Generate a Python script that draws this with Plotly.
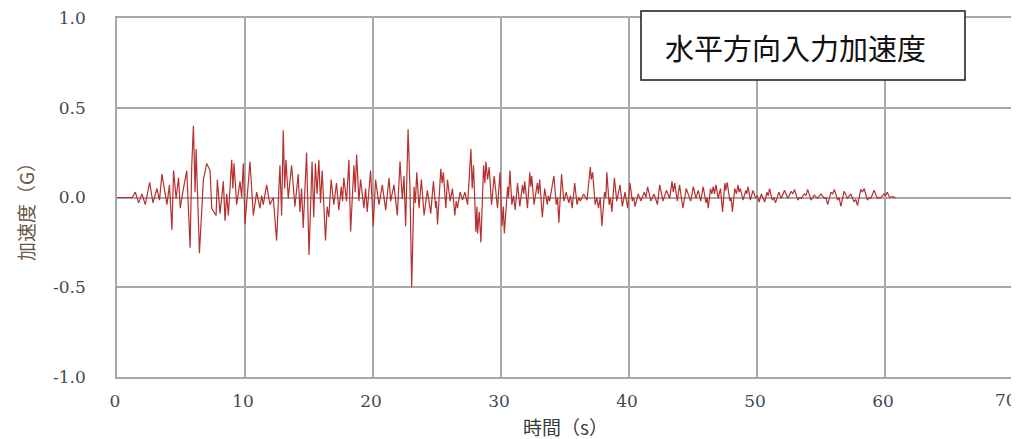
import plotly.graph_objects as go

# ---- data (time in s, acceleration in G) ----
time_s = [
    0.0, 1.2, 1.43, 1.69, 1.95, 2.21, 2.55, 2.81, 3.12, 3.32, 3.51, 3.90, 4.10, 4.29, 4.42, 4.62,
    4.81, 4.94, 5.19, 5.45, 5.71, 5.84, 5.97, 6.10, 6.18, 6.44, 6.75, 7.01, 7.27, 7.40, 7.74, 7.84,
    8.05, 8.31, 8.44, 8.57, 8.70, 8.96, 9.05, 9.14, 9.35, 9.61, 9.74, 9.87, 10.0, 10.39, 10.65, 10.91,
    11.17, 11.30, 11.43, 11.69, 11.95, 12.21, 12.47, 12.73, 12.86, 12.99, 13.10, 13.20, 13.38, 13.64,
    13.90, 14.16, 14.29, 14.42, 14.55, 14.81, 15.00, 15.24, 15.37, 15.50, 15.63, 15.77, 15.90, 16.03,
    16.29, 16.42, 16.55, 16.73, 16.94, 17.15, 17.33, 17.52, 17.62, 17.72, 17.93, 18.12, 18.25, 18.51,
    18.61, 18.72, 18.90, 19.03, 19.29, 19.42, 19.55, 19.81, 20.02, 20.20, 20.47, 20.73, 20.99, 21.25,
    21.38, 21.64, 21.90, 22.11, 22.29, 22.42, 22.55, 22.74, 22.89, 23.02, 23.21, 23.31, 23.42, 23.60,
    23.78, 23.99, 24.25, 24.51, 24.72, 24.90, 24.96, 25.04, 25.30, 25.40, 25.50, 25.69, 25.82, 26.03,
    26.21, 26.39, 26.50, 26.60, 26.81, 26.99, 27.18, 27.39, 27.65, 27.75, 27.85, 28.04, 28.12, 28.17,
    28.30, 28.43, 28.64, 28.74, 28.82, 28.95, 29.08, 29.26, 29.47, 29.73, 29.92, 30.08, 30.18, 30.26,
    30.52, 30.59, 30.70, 30.85, 30.98, 31.11, 31.29, 31.47, 31.68, 31.78, 31.86, 32.07, 32.25, 32.33,
    32.40, 32.58, 32.84, 32.92, 33.02, 33.23, 33.41, 33.62, 33.70, 33.80, 34.13, 34.32, 34.42, 34.52,
    34.73, 34.91, 35.09, 35.30, 35.43, 35.56, 35.76, 35.94, 36.07, 36.20, 36.46, 36.72, 36.98, 37.05,
    37.16, 37.36, 37.49, 37.62, 37.75, 37.88, 38.09, 38.19, 38.27, 38.45, 38.55, 38.66, 38.86, 39.04,
    39.30, 39.48, 39.69, 39.90, 40.08, 40.26, 40.36, 40.47, 40.72, 40.93, 41.19, 41.32, 41.45, 41.71,
    41.96, 42.22, 42.40, 42.66, 42.92, 43.18, 43.36, 43.46, 43.57, 43.77, 43.95, 44.21, 44.47, 44.82,
    45.03, 45.23, 45.41, 45.60, 45.80, 46.01, 46.11, 46.19, 46.37, 46.47, 46.58, 46.68, 46.79, 46.97,
    47.15, 47.31, 47.49, 47.56, 47.67, 47.88, 47.98, 48.08, 48.26, 48.39, 48.52, 48.60, 48.70, 48.91,
    49.12, 49.20, 49.30, 49.48, 49.69, 49.90, 50.03, 50.16, 50.34, 50.60, 50.78, 50.88, 50.98, 51.19,
    51.32, 51.45, 51.71, 51.89, 52.15, 52.41, 52.67, 52.80, 52.93, 53.19, 53.32, 53.45, 53.70, 53.83,
    53.96, 54.22, 54.48, 54.74, 55.00, 55.26, 55.39, 55.52, 55.78, 55.91, 56.04, 56.30, 56.42, 56.55,
    56.81, 57.07, 57.33, 57.59, 57.72, 57.85, 58.11, 58.24, 58.37, 58.63, 58.76, 58.89, 59.15, 59.40,
    59.53, 59.66, 59.92, 60.05, 60.18, 60.36, 60.57, 60.83,
]
accel_g = [
    0.0, 0.0, 0.03, -0.03, 0.02, -0.04, 0.085, -0.03, 0.05, -0.015, 0.13, -0.04, 0.07, -0.18, 0.15, -0.005,
    0.11, -0.06, 0.05, 0.15, -0.28, 0.18, 0.40, 0.03, 0.27, -0.31, 0.10, 0.19, 0.15, -0.06, -0.10, 0.10,
    -0.09, 0.09, -0.13, 0.02, -0.10, 0.21, 0.05, 0.19, -0.04, 0.09, 0.0, 0.19, -0.15, 0.20, -0.10, 0.03,
    -0.06, 0.01, -0.04, 0.07, -0.04, 0.0, -0.24, 0.18, -0.10, 0.375, 0.05, 0.21, -0.005, 0.18,
    -0.05, 0.13, -0.08, 0.05, -0.17, 0.25, -0.32, 0.20, -0.11, 0.19, 0.02, 0.21, -0.03, 0.15,
    -0.24, -0.05, -0.11, 0.10, -0.04, 0.08, -0.07, 0.06, -0.02, 0.11, -0.02, 0.21, -0.19, 0.18,
    0.03, 0.24, -0.02, 0.10, -0.06, 0.05, -0.08, 0.15, -0.16, 0.10, -0.04, 0.07, -0.07, 0.11,
    -0.02, 0.07, -0.10, 0.20, -0.01, 0.12, -0.16, 0.38, 0.05, -0.50, 0.06, -0.03, 0.14, -0.06,
    0.10, -0.10, 0.04, -0.09, 0.09, -0.06, -0.02, -0.15, 0.16, 0.08, 0.14, -0.06, 0.10, -0.02,
    0.05, -0.10, -0.02, -0.06, 0.03, -0.015, 0.03, -0.04, 0.27, 0.05, 0.18, -0.19, -0.05, -0.20,
    -0.08, -0.25, 0.18, 0.08, 0.20, 0.10, 0.17, -0.04, 0.12, -0.06, 0.14, -0.16, -0.05, -0.20,
    0.06, 0.0, 0.15, -0.04, 0.01, -0.07, 0.08, -0.05, 0.07, 0.02, 0.09, -0.06, 0.14, 0.06,
    0.12, -0.04, 0.08, 0.02, 0.10, -0.11, 0.05, -0.04, 0.01, -0.02, 0.12, -0.04, 0.0, -0.14,
    0.13, -0.02, 0.03, -0.03, 0.01, -0.06, 0.08, -0.04, 0.0, -0.02, 0.02, -0.015, 0.17, 0.10,
    0.14, -0.04, 0.0, -0.06, 0.0, -0.16, 0.03, 0.0, 0.14, -0.04, 0.0, -0.08, 0.11, -0.02,
    0.07, -0.05, 0.03, -0.06, 0.08, -0.02, 0.0, -0.05, 0.02, -0.02, 0.03, 0.0, 0.06, -0.02,
    0.02, -0.04, 0.07, -0.02, 0.04, -0.005, 0.09, 0.03, 0.08, -0.02, 0.07, -0.06, 0.05, -0.02,
    0.06, -0.005, 0.04, -0.02, 0.06, -0.03, 0.0, -0.06, 0.05, 0.02, 0.06, 0.02, 0.07, -0.005,
    0.05, -0.08, 0.08, 0.04, 0.085, -0.02, 0.0, -0.08, 0.05, 0.02, 0.07, 0.03, 0.05, -0.015,
    0.04, 0.02, 0.06, -0.015, 0.04, -0.005, 0.01, -0.025, 0.02, -0.025, 0.03, 0.01, 0.05, -0.015,
    0.0, -0.03, 0.03, -0.005, 0.04, -0.005, 0.035, 0.02, 0.045, -0.015, 0.0, -0.005, 0.02, 0.01,
    0.045, -0.015, 0.013, -0.005, 0.02, -0.005, 0.0, -0.04, 0.03, 0.02, 0.045, -0.015, 0.0, -0.05,
    0.035, -0.005, 0.02, -0.025, -0.01, -0.045, 0.045, 0.03, 0.05, -0.015, 0.0, -0.005, 0.04, -0.005,
    0.0, -0.002, 0.02, 0.01, 0.03, 0.0, 0.005, 0.0,
]

x_ticks = [0, 10, 20, 30, 40, 50, 60, 70]
x_tick_text = ["0", "10", "20", "30", "40", "50", "60", "70"]
y_ticks = [-1.0, -0.5, 0.0, 0.5, 1.0]
y_tick_text = ["-1.0", "-0.5", "0.0", "0.5", "1.0"]

chart_title = "水平方向入力加速度"
x_title = "時間（s）"
y_title = "加速度（G）"

# ---- figure ----
# The page body has an 8px default margin, so the figure is offset by 8px.
OFF = 8
W, H = 1019 - OFF, 439 - OFF
# plot area in page pixels: x 117..1013, y 18..377
L, T = 117 - OFF, 18 - OFF
R = W - (1013 - OFF)
B = H - (377 - OFF)
pw, ph = W - L - R, H - T - B

def px_x(px):  # page pixel -> paper coordinate
    return (px - OFF - L) / pw

def px_y(py):
    return (H - B - (py - OFF)) / ph

grid_col = "#a8a8a8"
tick_font = dict(family="DejaVu Serif", size=17, color="#414a52")

# the last x label sits just inside the right edge, as in the reference
x_text_main = x_tick_text[:-1] + [""]

fig = go.Figure()
fig.add_trace(go.Scatter(
    x=time_s, y=accel_g, mode="lines",
    line=dict(color="#b5302f", width=1.2),
    showlegend=False, hoverinfo="x+y",
))

fig.update_layout(
    template="none",
    width=W, height=H,
    margin=dict(l=L, r=R, t=T, b=B, pad=0),
    paper_bgcolor="white", plot_bgcolor="white",
    xaxis=dict(
        range=[0, 70], tickvals=x_ticks, ticktext=x_text_main, automargin=False,
        showgrid=True, gridcolor=grid_col, gridwidth=1.5,
        showline=True, linecolor=grid_col, linewidth=1.5, mirror=True,
        zeroline=False, ticks="", tickfont=tick_font, ticklabelstandoff=8,
        ticklabelshift=-2, ticklabeloverflow="allow",
    ),
    yaxis=dict(
        range=[-1.0, 1.0], tickvals=y_ticks, ticktext=y_tick_text, automargin=False,
        showgrid=True, gridcolor=grid_col, gridwidth=1.5,
        showline=True, linecolor=grid_col, linewidth=1.5, mirror=True,
        zeroline=False, ticks="", tickfont=tick_font, ticklabelstandoff=26,
        ticklabeloverflow="allow",
    ),
)

fig.add_annotation(
    xref="x", yref="paper", x=x_ticks[-1], y=px_y(400), xshift=-7,
    xanchor="center", yanchor="middle", showarrow=False,
    text=x_tick_text[-1], font=tick_font,
)

# title box
fig.add_shape(
    type="rect", xref="paper", yref="paper",
    x0=px_x(641), x1=px_x(965), y0=px_y(80), y1=px_y(11),
    fillcolor="white", line=dict(color="#1a1a1a", width=1.5), layer="above",
)
fig.add_annotation(
    xref="paper", yref="paper", x=px_x(663), y=px_y(47),
    xanchor="left", yanchor="middle", showarrow=False,
    text=chart_title,
    font=dict(family="Noto Sans CJK JP", size=29, color="#111111"),
)

# axis titles
fig.add_annotation(
    xref="paper", yref="paper", x=px_x(565), y=px_y(426),
    xanchor="center", yanchor="middle", showarrow=False,
    text=x_title,
    font=dict(family="Noto Sans CJK JP", size=19, color="#3a3a3a"),
)
fig.add_annotation(
    xref="paper", yref="paper", x=px_x(25), y=px_y(207),
    xanchor="center", yanchor="middle", showarrow=False, textangle=-90,
    text=y_title,
    font=dict(family="Noto Sans CJK JP", size=19, color="#6b5646"),
)

fig.write_html("out.html")
